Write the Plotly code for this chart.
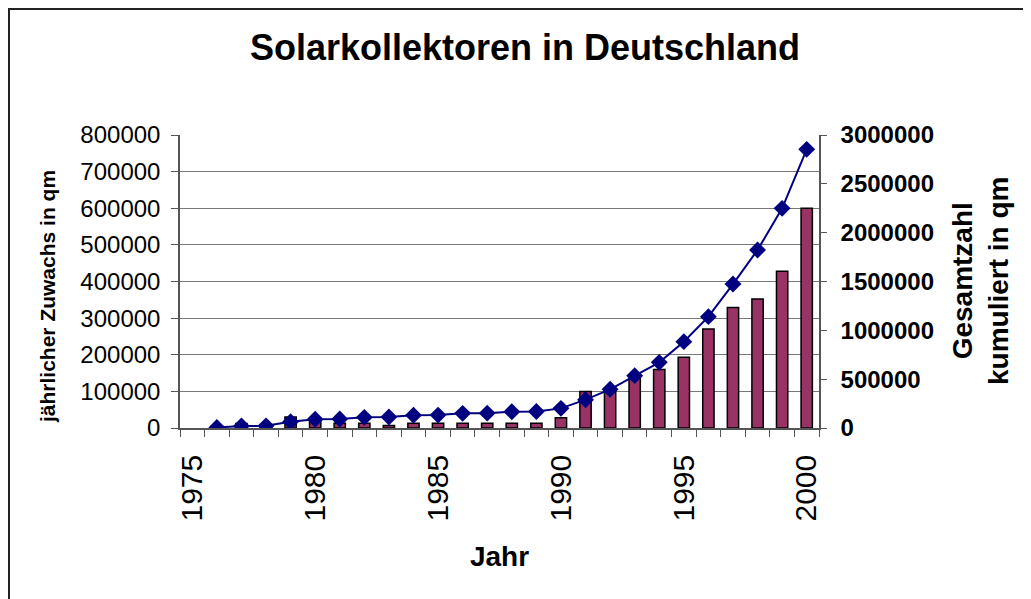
import plotly.graph_objects as go

years = list(range(1976, 2001))
annual = [5000, 12000, 8000, 30000, 26000, 13000, 13000, 7000, 13000, 13000,
          13000, 13000, 13000, 13000, 28000, 100000, 104000, 136000, 160000, 193000,
          270000, 329000, 352000, 428000, 600000]
cumulative = [5000, 20000, 22000, 65000, 89000, 92000, 109000, 112000, 130000, 132000,
              150000, 152000, 167000, 169000, 201000, 290000, 396000, 536000, 672000, 884000,
              1140000, 1474000, 1823000, 2249000, 2853000]
xtick_vals = [1975, 1980, 1985, 1990, 1995, 2000]
xtick_text = ["1975", "1980", "1985", "1990", "1995", "2000"]
r_vals = [0, 500000, 1000000, 1500000, 2000000, 2500000, 3000000]

# page has an 8px body margin; figure coords = page coords - 8
OFF = 8
W, H = 1031 - OFF, 599 - OFF
L, R, T, B = 180 - OFF, 212, 135 - OFF, 171
pw, ph = W - L - R, H - T - B
FONT = "Liberation Sans, Arial, sans-serif"


def px(xp):  # page x -> paper x
    return (xp - OFF - L) / pw


def py(yp):  # page y -> paper y
    return (H - B - (yp - OFF)) / ph


fig = go.Figure()
fig.add_trace(go.Bar(x=years, y=annual, width=0.46,
                     marker=dict(color="#993366", line=dict(color="#000000", width=1.5)),
                     name="jährlicher Zuwachs", yaxis="y"))
fig.add_trace(go.Scatter(x=years, y=cumulative, mode="lines+markers",
                         line=dict(color="#000080", width=2),
                         marker=dict(symbol="diamond", size=13, color="#000080"),
                         name="Gesamtzahl kumuliert", yaxis="y2"))

fig.update_layout(
    width=W, height=H,
    margin=dict(l=L, r=R, t=T, b=B, pad=0),
    paper_bgcolor="white", plot_bgcolor="white",
    showlegend=False,
    font=dict(family=FONT, color="black"),
    title=dict(text="Solarkollektoren in Deutschland",
               font=dict(family=FONT, size=36, weight="bold", color="black"),
               x=(525 - OFF) / W, xanchor="center", y=1 - (47 - OFF) / H, yanchor="middle",
               xref="container", yref="container"),
    xaxis=dict(range=[1974.5, 2000.5], tickmode="array", tickvals=xtick_vals,
               ticktext=xtick_text, tickangle=-90,
               tickfont=dict(family=FONT, size=30, color="black"),
               ticks="outside", ticklen=13, tickcolor="rgba(0,0,0,0)",
               minor=dict(tickmode="linear", tick0=1974.5, dtick=1, ticks="outside",
                          ticklen=7, tickcolor="#555555", tickwidth=1.3, showgrid=False),
               showline=True, linecolor="#555555", linewidth=1.5, showgrid=False,
               zeroline=False,
               title=dict(text="Jahr", standoff=26,
                          font=dict(family=FONT, size=28, weight="bold", color="black"))),
    yaxis=dict(range=[0, 800000], dtick=100000, tickformat="d",
               tickfont=dict(family=FONT, size=24, color="black"),
               ticks="outside", ticklen=7,
               tickcolor="#555555", ticklabelstandoff=6,
               showline=True, linecolor="#555555", linewidth=1.5,
               showgrid=True, gridcolor="#787878", gridwidth=1.4, zeroline=False),
    yaxis2=dict(range=[0, 3000000], overlaying="y", side="right",
                tickmode="array", tickvals=r_vals,
                ticktext=["%d" % v for v in r_vals],
                tickfont=dict(family=FONT, size=24, weight="bold", color="black"),
                ticks="outside", ticklen=6,
                tickcolor="#555555", ticklabelstandoff=9,
                showline=True, linecolor="#555555", linewidth=1.5,
                showgrid=False, zeroline=False),
)

# axis titles as annotations
fig.add_annotation(text="jährlicher Zuwachs in qm", xref="paper", yref="paper",
                   x=px(47), y=py(297), textangle=-90, showarrow=False,
                   font=dict(family=FONT, size=21, weight="bold", color="black"),
                   xanchor="center", yanchor="middle")
fig.add_annotation(text="Gesamtzahl<br>kumuliert in qm", xref="paper", yref="paper",
                   x=px(980), y=py(281), textangle=-90, showarrow=False,
                   font=dict(family=FONT, size=28, weight="bold", color="black"),
                   xanchor="center", yanchor="middle")

# outer chart-area border (clipped on right/bottom like the original)
fig.add_shape(type="rect", xref="paper", yref="paper",
              x0=px(9), x1=px(1060), y0=py(630), y1=py(9),
              line=dict(color="#222222", width=2), layer="below")

fig.write_html("out.html")
